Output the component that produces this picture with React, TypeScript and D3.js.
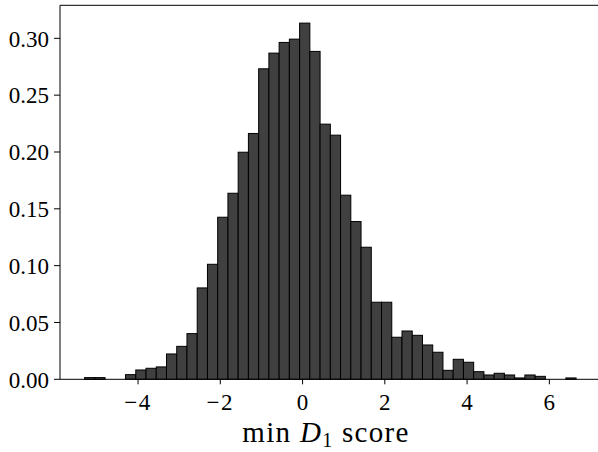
import React from "react";
import * as d3 from "d3";

const binStart = -5.3;
const binEnd = 6.65;
const densities = [
  0.0015, 0.0015, 0, 0, 0.0041, 0.0082, 0.0097, 0.0109, 0.0223, 0.029,
  0.0402, 0.0804, 0.1012, 0.1426, 0.1637, 0.1998, 0.2163, 0.2732, 0.287, 0.2964,
  0.2993, 0.3134, 0.2885, 0.2245, 0.2148, 0.162, 0.1388, 0.1162, 0.0678, 0.0678,
  0.037, 0.0425, 0.0387, 0.0302, 0.0238, 0.0079, 0.0176, 0.015, 0.0067, 0.0038,
  0.0053, 0.0038, 0.0012, 0.0038, 0.0026, 0, 0, 0.0012,
];
const xTicks = [-4, -2, 0, 2, 4, 6];
const yTicks = [0, 0.05, 0.1, 0.15, 0.2, 0.25, 0.3];

const W = 598;
const H = 452;
const left = 60;
const top = 5.3;
const bottom = 379.3;

export default function App() {
  const n = densities.length;
  const bw = (binEnd - binStart) / n;
  const range = binEnd - binStart;
  const x = d3
    .scaleLinear()
    .domain([binStart - 0.05 * range, binEnd + 0.05 * range])
    .range([left, left + 13.145 * 41.13]);
  const yMax = (d3.max(densities) as number) * 1.05;
  const y = d3.scaleLinear().domain([0, yMax]).range([bottom, top]);
  const right = x.range()[1];
  const font = "'Liberation Serif', 'Times New Roman', serif";
  const fmt = d3.format(".2f");
  const minus = (v: number) => (v < 0 ? "\u2212" + Math.abs(v) : String(v));

  return (
    <svg
      width={W}
      height={H}
      style={{ position: "fixed", left: 0, top: 0, background: "#fff" }}
      fontFamily={font}
    >
      <rect x={0} y={0} width={W} height={H} fill="#fff" />
      {densities.map((d, i) => {
        if (d <= 0) return null;
        const x0 = x(binStart + i * bw);
        const x1 = x(binStart + (i + 1) * bw);
        return (
          <rect
            key={i}
            x={x0}
            y={y(d)}
            width={x1 - x0}
            height={y(0) - y(d)}
            fill="#404040"
            stroke="#000"
            strokeWidth={1}
          />
        );
      })}
      {/* spines */}
      <line x1={left} x2={left} y1={top} y2={bottom} stroke="#000" strokeWidth={1} />
      <line x1={left} x2={right} y1={top} y2={top} stroke="#000" strokeWidth={1} />
      <line x1={left} x2={right} y1={bottom} y2={bottom} stroke="#000" strokeWidth={1} />
      <line x1={right} x2={right} y1={top} y2={bottom} stroke="#000" strokeWidth={1} />
      {/* y ticks */}
      {yTicks.map((t) => (
        <g key={"y" + t}>
          <line x1={left - 6} x2={left} y1={y(t)} y2={y(t)} stroke="#000" strokeWidth={1} />
          <text x={49} y={y(t) + 8.2} textAnchor="end" fontSize={23} fill="#000">
            {fmt(t)}
          </text>
        </g>
      ))}
      {/* x ticks */}
      {xTicks.map((t) => (
        <g key={"x" + t}>
          <line x1={x(t)} x2={x(t)} y1={bottom} y2={bottom + 5} stroke="#000" strokeWidth={1} />
          <text x={x(t)} y={410} textAnchor="middle" fontSize={23} fill="#000" letterSpacing={t < 0 ? 1.5 : 0}>
            {minus(t)}
          </text>
        </g>
      ))}
      <text x={326} y={441.5} textAnchor="middle" fontSize={29} fill="#000" letterSpacing={1.3}>
        <tspan>min </tspan>
        <tspan fontStyle="italic">D</tspan>
        <tspan fontSize={20} dy={5}>1</tspan>
        <tspan dy={-5}> score</tspan>
      </text>
    </svg>
  );
}
